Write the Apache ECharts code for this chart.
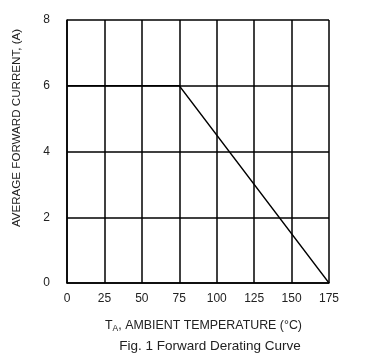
<!DOCTYPE html>
<html><head><meta charset="utf-8">
<script src="https://cdn.jsdelivr.net/npm/echarts@6/dist/echarts.min.js"></script>
<style>html,body{margin:0;padding:0;background:#fff}#c{width:387px;height:356px}</style>
</head><body><div id="c"></div>
<script>
const temps = [0, 75, 175];
const current = [6, 6, 0];
const xTicks = [0, 25, 50, 75, 100, 125, 150, 175];
const yTicks = [0, 2, 4, 6, 8];
const chart = echarts.init(document.getElementById('c'), null, {renderer: 'canvas'});
const font = 'Liberation Sans, Arial, sans-serif';
chart.setOption({
  animation: false,
  backgroundColor: '#fff',
  title: {
    text: 'Fig. 1 Forward Derating Curve',
    left: 205, top: 334, textAlign: 'center',
    textStyle: {fontFamily: font, fontSize: 13.5, fontWeight: 'normal', color: '#222'}
  },
  graphic: [{
    type: 'text',
    x: 17, y: 128, rotation: Math.PI / 2,
    style: {text: 'AVERAGE FORWARD CURRENT, (A)', font: '11.6px ' + font, fill: '#222', align: 'center', verticalAlign: 'middle'}
  }],
  grid: {left: 67, right: 58, top: 20, bottom: 73, containLabel: false},
  xAxis: {
    type: 'value', min: 0, max: 175, interval: 25,
    name: '{t|T}{s|A}{t|, AMBIENT TEMPERATURE (°C)}',
    nameLocation: 'middle', nameGap: 35,
    nameTextStyle: {padding: [0, 0, 0, 11], rich: {
      t: {fontFamily: font, fontSize: 12.4, color: '#222'},
      s: {fontFamily: font, fontSize: 8.5, color: '#222', verticalAlign: 'bottom', padding: [6, 0, 0, 0]}
    }},
    axisLine: {show: true, lineStyle: {color: '#000', width: 1.5}},
    axisTick: {show: false},
    splitLine: {show: true, lineStyle: {color: '#000', width: 1.5}},
    axisLabel: {fontFamily: font, fontSize: 12, color: '#222', margin: 10}
  },
  yAxis: {
    type: 'value', min: 0, max: 8, interval: 2,
    axisLine: {show: true, lineStyle: {color: '#000', width: 1.5}},
    axisTick: {show: false},
    splitLine: {show: true, lineStyle: {color: '#000', width: 1.5}},
    axisLabel: {fontFamily: font, fontSize: 12, color: '#222', margin: 17}
  },
  series: [{
    type: 'line',
    data: temps.map((t, i) => [t, current[i]]),
    symbol: 'none',
    lineStyle: {color: '#000', width: 1.3},
    z: 5
  }]
});
</script></body></html>
